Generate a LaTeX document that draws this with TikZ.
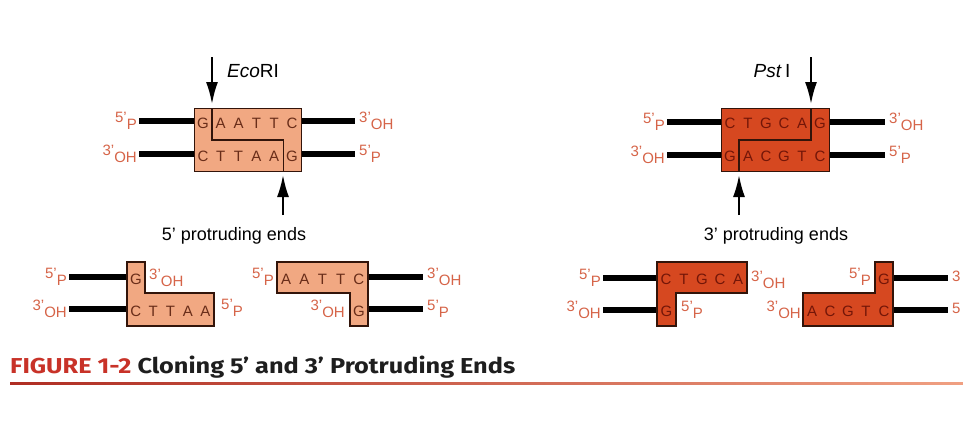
\documentclass[tikz,border=0pt]{standalone}
\usepackage{fontspec}
\setmainfont{Liberation Sans}
\newfontfamily\capfont{Fira Sans}
\usetikzlibrary{arrows.meta}
\definecolor{lightfill}{RGB}{241,168,130}
\definecolor{redfill}{RGB}{214,72,32}
\definecolor{labc}{RGB}{214,100,72}
\definecolor{ntlight}{RGB}{105,45,25}
\definecolor{ntred}{RGB}{115,22,8}
\definecolor{edge}{RGB}{50,20,10}
\definecolor{capred}{RGB}{200,50,40}
\definecolor{captext}{RGB}{30,30,30}
\definecolor{lineleft}{RGB}{175,45,35}
\definecolor{lineright}{RGB}{240,160,130}
\newcommand{\lbl}[2]{\raisebox{3.5pt}{#1}\raisebox{-3pt}{#2}}
\newcommand{\seqrow}[6]{%
  \foreach \c [count=\i] in {#5} \node[#6] (#1\i) at ({#2+(\i-0.5)*#4},#3) {\c};}
\begin{document}
\begin{tikzpicture}[x=1pt,y=-1pt,
  strand/.style={line width=6pt},
  boxl/.style={draw=edge,line width=1.4pt,fill=lightfill},
  boxr/.style={draw=edge,line width=1.4pt,fill=redfill},
  cutline/.style={draw=edge,line width=1.4pt},
  cutarrow/.style={line width=2pt,-{Latex[length=22pt,width=12pt]}},
  lab/.style={text=labc,font=\fontsize{15}{18}\selectfont,inner sep=0pt},
  ntl/.style={text=ntlight,font=\fontsize{15}{18}\selectfont,inner sep=0pt},
  ntr/.style={text=ntred,font=\fontsize{15}{18}\selectfont,inner sep=0pt},
  title/.style={font=\fontsize{18}{22}\selectfont,inner sep=0pt},
  enz/.style={font=\fontsize{19}{22}\selectfont,inner sep=0pt},
]
\fill[white] (0,0) rectangle (963,421);
\useasboundingbox (0,0) rectangle (963,421);

% ================= EcoRI =================
\coordinate (e1) at (139,121); \coordinate (e2) at (194,121);
\coordinate (e3) at (301,121); \coordinate (e4) at (355,121);
\coordinate (e5) at (139,154); \coordinate (e6) at (194,154);
\coordinate (e7) at (301,154); \coordinate (e8) at (355,154);
\draw[strand] (e1) -- (e2); \draw[strand] (e3) -- (e4);
\draw[strand] (e5) -- (e6); \draw[strand] (e7) -- (e8);
\node[boxl,anchor=north west,minimum width=107pt,minimum height=63pt,inner sep=0pt] (eco) at (194,108) {};
\seqrow{et}{194}{123}{17.83}{G,A,A,T,T,C}{ntl}
\seqrow{eb}{194}{156}{17.83}{C,T,T,A,A,G}{ntl}
\draw[cutline] (211.8,108) -- (211.8,140) -- (283.2,140) -- (283.2,171);
\node[lab,anchor=east] (el1) at ([xshift=-2pt]e1) {\lbl{5'}{P}};
\node[lab,anchor=east] (el2) at ([xshift=-2pt]e5) {\lbl{3'}{OH}};
\node[lab,anchor=west] (el3) at ([xshift=4pt]e4) {\lbl{3'}{OH}};
\node[lab,anchor=west] (el4) at ([xshift=4pt]e8) {\lbl{5'}{P}};
\coordinate (ea1) at (212,57); \coordinate (ea2) at (212,104);
\draw[cutarrow] (ea1) -- (ea2);
\coordinate (ea3) at (283,215); \coordinate (ea4) at (283,175);
\draw[cutarrow] (ea3) -- (ea4);
\node[enz,anchor=west] (econame) at (227,71) {\textit{Eco}RI};
\node[title] (p5) at (234,236) {5' protruding ends};

% ================= PstI =================
\coordinate (q1) at (667,122); \coordinate (q2) at (721,122);
\coordinate (q3) at (829,122); \coordinate (q4) at (885,122);
\coordinate (q5) at (667,155); \coordinate (q6) at (721,155);
\coordinate (q7) at (829,155); \coordinate (q8) at (885,155);
\draw[strand] (q1) -- (q2); \draw[strand] (q3) -- (q4);
\draw[strand] (q5) -- (q6); \draw[strand] (q7) -- (q8);
\node[boxr,anchor=north west,minimum width=108pt,minimum height=63pt,inner sep=0pt] (pst) at (721,108) {};
\seqrow{pt}{721}{123}{18}{C,T,G,C,A,G}{ntr}
\seqrow{pb}{721}{156}{18}{G,A,C,G,T,C}{ntr}
\draw[cutline] (811,108) -- (811,140) -- (739,140) -- (739,171);
\node[lab,anchor=east] (pl1) at ([xshift=-2pt]q1) {\lbl{5'}{P}};
\node[lab,anchor=east] (pl2) at ([xshift=-2pt]q5) {\lbl{3'}{OH}};
\node[lab,anchor=west] (pl3) at ([xshift=4pt]q4) {\lbl{3'}{OH}};
\node[lab,anchor=west] (pl4) at ([xshift=4pt]q8) {\lbl{5'}{P}};
\coordinate (pa1) at (811,57); \coordinate (pa2) at (811,104);
\draw[cutarrow] (pa1) -- (pa2);
\coordinate (pa3) at (739,215); \coordinate (pa4) at (739,175);
\draw[cutarrow] (pa3) -- (pa4);
\node[enz] (pstname) at (772,71) {\textit{Pst}\,I};
\node[title] (p3) at (776,236) {3' protruding ends};

% ================= fragment 1 =================
\coordinate (f1a) at (69,277); \coordinate (f1b) at (127,277);
\coordinate (f1c) at (69,309); \coordinate (f1d) at (127,309);
\draw[strand] (f1a) -- (f1b); \draw[strand] (f1c) -- (f1d);
\draw[boxl] (127,262) -- (145,262) -- (145,293) -- (214,293) -- (214,326) -- (127,326) -- cycle;
\seqrow{fa}{127}{279}{18}{G}{ntl}
\seqrow{fb}{127}{311}{17.4}{C,T,T,A,A}{ntl}
\node[lab,anchor=east] (f1l1) at ([xshift=-2pt]f1a) {\lbl{5'}{P}};
\node[lab,anchor=east] (f1l2) at ([xshift=-2pt]f1c) {\lbl{3'}{OH}};
\node[lab,anchor=west] (f1l3) at (149,278) {\lbl{3'}{OH}};
\node[lab,anchor=west] (f1l4) at (221,308) {\lbl{5'}{P}};

% ================= fragment 2 =================
\coordinate (f2a) at (368,277); \coordinate (f2b) at (423,277);
\coordinate (f2c) at (368,309); \coordinate (f2d) at (423,309);
\draw[strand] (f2a) -- (f2b); \draw[strand] (f2c) -- (f2d);
\draw[boxl] (277,262) -- (368,262) -- (368,326) -- (350,326) -- (350,293) -- (277,293) -- cycle;
\seqrow{fc}{277}{279}{18.2}{A,A,T,T,C}{ntl}
\seqrow{fd}{350}{311}{18}{G}{ntl}
\node[lab,anchor=east] (f2l1) at (274,277) {\lbl{5'}{P}};
\node[lab,anchor=east] (f2l2) at (345,309) {\lbl{3'}{OH}};
\node[lab,anchor=west] (f2l3) at ([xshift=4pt]f2b) {\lbl{3'}{OH}};
\node[lab,anchor=west] (f2l4) at ([xshift=4pt]f2d) {\lbl{5'}{P}};

% ================= fragment 3 =================
\coordinate (f3a) at (603,278); \coordinate (f3b) at (657,278);
\coordinate (f3c) at (603,310); \coordinate (f3d) at (657,310);
\draw[strand] (f3a) -- (f3b); \draw[strand] (f3c) -- (f3d);
\draw[boxr] (657,262) -- (747,262) -- (747,293) -- (676,293) -- (676,326) -- (657,326) -- cycle;
\seqrow{fe}{657}{279}{18}{C,T,G,C,A}{ntr}
\seqrow{ff}{657}{311}{19}{G}{ntr}
\node[lab,anchor=east] (f3l1) at ([xshift=-2pt]f3a) {\lbl{5'}{P}};
\node[lab,anchor=east] (f3l2) at ([xshift=-2pt]f3c) {\lbl{3'}{OH}};
\node[lab,anchor=west] (f3l3) at (751,280) {\lbl{3'}{OH}};
\node[lab,anchor=west] (f3l4) at (681,310) {\lbl{5'}{P}};

% ================= fragment 4 =================
\coordinate (f4a) at (893,278); \coordinate (f4b) at (948,278);
\coordinate (f4c) at (893,310); \coordinate (f4d) at (948,310);
\draw[strand] (f4a) -- (f4b); \draw[strand] (f4c) -- (f4d);
\draw[boxr] (875,262) -- (893,262) -- (893,326) -- (803,326) -- (803,293) -- (875,293) -- cycle;
\seqrow{fg}{875}{279}{18}{G}{ntr}
\seqrow{fh}{803}{311}{18}{A,C,G,T,C}{ntr}
\node[lab,anchor=east] (f4l1) at (871,277) {\lbl{5'}{P}};
\node[lab,anchor=east] (f4l2) at (801,310) {\lbl{3'}{OH}};
\node[lab,anchor=west] (f4l3) at ([xshift=4pt]f4b) {\raisebox{3.5pt}{3}};
\node[lab,anchor=west] (f4l4) at ([xshift=4pt]f4d) {\raisebox{3.5pt}{5}};

% ================= caption =================
\node[anchor=base west,inner sep=0pt] (cap) at (10,373)
  {\resizebox{505pt}{17.5pt}{\capfont\bfseries\fontsize{20}{24}\selectfont\textcolor{capred}{FIGURE 1-2} \textcolor{captext}{Cloning 5’ and 3’ Protruding Ends}}};
\shade[left color=lineleft,right color=lineright] (10,382) rectangle (963,384.5);
\end{tikzpicture}
\end{document}
